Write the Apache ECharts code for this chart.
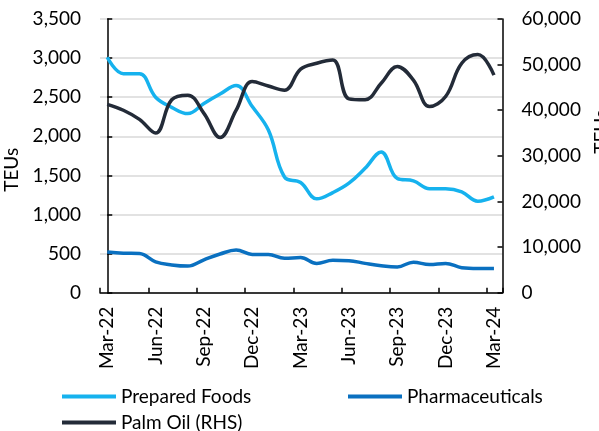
<!DOCTYPE html>
<html>
<head>
<meta charset="utf-8">
<script src="https://cdn.jsdelivr.net/npm/echarts@6/dist/echarts.min.js"></script>
<style>html,body{margin:0;padding:0;background:#fff;}#c{width:599px;height:431px;}</style>
</head>
<body>
<div id="c"></div>
<script>
const categories = ['Mar-22','Apr-22','May-22','Jun-22','Jul-22','Aug-22','Sep-22','Oct-22','Nov-22','Dec-22','Jan-23','Feb-23','Mar-23','Apr-23','May-23','Jun-23','Jul-23','Aug-23','Sep-23','Oct-23','Nov-23','Dec-23','Jan-24','Feb-24','Mar-24'];
const preparedFoods = [3010, 2800, 2800, 2500, 2370, 2290, 2420, 2540, 2650, 2380, 2080, 1480, 1410, 1200, 1280, 1400, 1590, 1800, 1460, 1430, 1330, 1330, 1290, 1170, 1225];
const pharmaceuticals = [520, 505, 500, 395, 355, 340, 420, 495, 545, 490, 490, 440, 450, 375, 415, 410, 375, 345, 330, 390, 360, 375, 320, 310, 310];
const palmOil = [41300, 40000, 38000, 35000, 42300, 43300, 39300, 34000, 40000, 46300, 45300, 44400, 49000, 50300, 51000, 42500, 42300, 45900, 49600, 46600, 40800, 43000, 50300, 52200, 47700];
const leftTicks = {min: 0, max: 3500, step: 500};
const rightTicks = {min: 0, max: 60000, step: 10000};
const labelIdx = [0, 3, 6, 9, 12, 15, 18, 21, 24];

const FONT = 'Lato';
const toPairs = arr => arr.map((v, i) => [i, v]);
const fmt = v => v.toLocaleString('en-US');

const chart = echarts.init(document.getElementById('c'), null, {renderer: 'canvas'});
chart.setOption({
  animation: false,
  textStyle: {fontFamily: FONT, color: '#000'},
  grid: {left: 100, right: 96.5, top: 19, bottom: 138.3, containLabel: false, outerBoundsMode: 'none'},
  xAxis: {
    type: 'value', min: -0.45, max: 24.53, interval: 3,
    axisLine: {show: true, lineStyle: {color: '#000', width: 1.5}},
    axisTick: {show: true, inside: true, length: 5, lineStyle: {color: '#000', width: 1.5}},
    splitLine: {show: false},
    axisLabel: {
      customValues: labelIdx, rotate: 90, margin: 14,
      fontFamily: FONT, fontSize: 19, color: '#000',
      formatter: v => categories[Math.round(v)] || ''
    }
  },
  yAxis: [{
    type: 'value', min: leftTicks.min, max: leftTicks.max, interval: leftTicks.step,
    name: 'TEUs', nameLocation: 'middle', nameGap: 72,
    nameTextStyle: {fontFamily: FONT, fontSize: 19, color: '#000', padding: [0, 28, 0, 0]},
    axisLine: {show: true, lineStyle: {color: '#000', width: 1.5}},
    axisTick: {show: true, inside: true, length: 5, lineStyle: {color: '#000', width: 1.5}},
    splitLine: {show: true, lineStyle: {color: '#d9d9d9', width: 1.5}},
    axisLabel: {margin: 19, fontFamily: FONT, fontSize: 19, color: '#000', formatter: fmt}
  }, {
    type: 'value', position: 'right', min: rightTicks.min, max: rightTicks.max, interval: rightTicks.step,
    name: 'TEUs', nameLocation: 'middle', nameGap: 90,
    nameTextStyle: {fontFamily: FONT, fontSize: 19, color: '#000', padding: [0, 0, 0, 48]},
    axisLine: {show: true, lineStyle: {color: '#000', width: 1.5}},
    axisTick: {show: true, inside: true, length: 5, lineStyle: {color: '#000', width: 1.5}},
    splitLine: {show: false},
    axisLabel: {margin: 19, fontFamily: FONT, fontSize: 19, color: '#000', formatter: fmt}
  }],
  legend: [
    {data: ['Prepared Foods'], left: 57, top: 382, icon: 'rect', itemWidth: 54, itemHeight: 4, itemGap: 0,
     textStyle: {fontFamily: FONT, fontSize: 19, color: '#000'}},
    {data: ['Pharmaceuticals'], left: 343, top: 382, icon: 'rect', itemWidth: 54, itemHeight: 4, itemGap: 0,
     textStyle: {fontFamily: FONT, fontSize: 19, color: '#000'}},
    {data: ['Palm Oil (RHS)'], left: 57, top: 408, icon: 'rect', itemWidth: 54, itemHeight: 4, itemGap: 0,
     textStyle: {fontFamily: FONT, fontSize: 19, color: '#000'}}
  ],
  series: [
    {name: 'Prepared Foods', type: 'line', yAxisIndex: 0, data: toPairs(preparedFoods), smooth: 0.4,
     showSymbol: false, lineStyle: {color: '#16b2ee', width: 3.5}, itemStyle: {color: '#16b2ee'}},
    {name: 'Pharmaceuticals', type: 'line', yAxisIndex: 0, data: toPairs(pharmaceuticals), smooth: 0.4,
     showSymbol: false, lineStyle: {color: '#0a70c0', width: 3.5}, itemStyle: {color: '#0a70c0'}},
    {name: 'Palm Oil (RHS)', type: 'line', yAxisIndex: 1, data: toPairs(palmOil), smooth: 0.4,
     showSymbol: false, lineStyle: {color: '#232b38', width: 3.5}, itemStyle: {color: '#232b38'}}
  ]
});
</script>
</body>
</html>
